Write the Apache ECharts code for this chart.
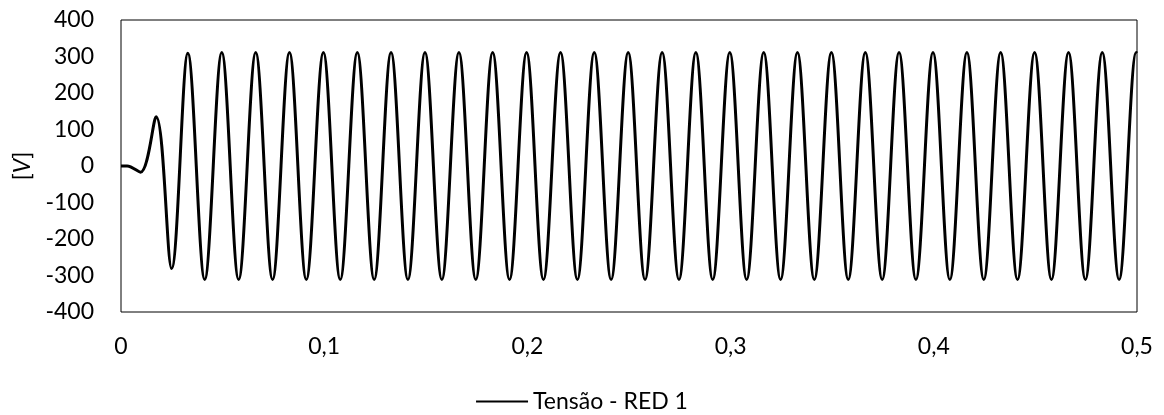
<!DOCTYPE html>
<html>
<head>
<meta charset="utf-8">
<script src="https://cdn.jsdelivr.net/npm/echarts@6/dist/echarts.min.js"></script>
<style>
  html, body { margin: 0; padding: 0; background: #fff; }
  #chart { width: 1164px; height: 415px; }
</style>
</head>
<body>
<div id="chart"></div>
<script>
// start of the signal (transient)
var startTimes = [0, 0.003, 0.0096, 0.0173, 0.0249];
var startValues = [0, 0, -17, 135, -281];

// steady state peaks and troughs
var peakTimes = [0.0329, 0.0496, 0.0663, 0.0829, 0.0996, 0.1163, 0.1329, 0.1496, 0.1663, 0.1829,
  0.1996, 0.2163, 0.2329, 0.2496, 0.2663, 0.2829, 0.2996, 0.3163, 0.3329, 0.3496,
  0.3663, 0.3829, 0.3996, 0.4163, 0.4329, 0.4496, 0.4663, 0.4829, 0.4996];
var peakValues = [309, 311, 311, 311, 311, 311, 311, 311, 311, 311,
  311, 311, 311, 311, 311, 311, 311, 311, 311, 311,
  311, 311, 311, 311, 311, 311, 311, 311, 311];
var troughTimes = [0.0412, 0.0579, 0.0746, 0.0912, 0.1079, 0.1246, 0.1412, 0.1579, 0.1746, 0.1912,
  0.2079, 0.2246, 0.2412, 0.2579, 0.2746, 0.2912, 0.3079, 0.3246, 0.3412, 0.3579,
  0.3746, 0.3912, 0.4079, 0.4246, 0.4412, 0.4579, 0.4746, 0.4912];
var troughValues = [-311, -311, -311, -311, -311, -311, -311, -311, -311, -311,
  -311, -311, -311, -311, -311, -311, -311, -311, -311, -311,
  -311, -311, -311, -311, -311, -311, -311, -311];
var endTimes = [0.5];
var endValues = [309];

var seriesName = 'Tensão - RED 1';

var points = [];
function addPoints(ts, vs) {
  for (var i = 0; i < ts.length; i++) points.push([ts[i], vs[i]]);
}
addPoints(startTimes, startValues);
addPoints(peakTimes, peakValues);
addPoints(troughTimes, troughValues);
addPoints(endTimes, endValues);
points.sort(function (a, b) { return a[0] - b[0]; });

var FONT = 'Lato, "Open Sans", sans-serif';
var FS = 23;

var myChart = echarts.init(document.getElementById('chart'));
var option = {
  animation: false,
  backgroundColor: '#fff',
  textStyle: { fontFamily: FONT },
  grid: {
    left: 121,
    top: 20,
    right: 27,
    bottom: 103,
    show: true,
    borderColor: '#000',
    borderWidth: 1,
    backgroundColor: 'transparent'
  },
  legend: {
    top: 385,
    left: 'center',
    icon: 'rect',
    itemWidth: 52,
    itemHeight: 2,
    itemGap: 4,
    textStyle: { fontSize: FS, color: '#000', fontFamily: FONT },
    data: [seriesName]
  },
  xAxis: {
    type: 'value',
    min: 0,
    max: 0.5,
    interval: 0.1,
    axisLine: { show: false },
    axisTick: { show: false },
    splitLine: { show: false },
    axisLabel: {
      color: '#000',
      fontSize: FS,
      margin: 23,
      formatter: function (v) {
        return v === 0 ? '0' : v.toFixed(1).replace('.', ',');
      }
    }
  },
  yAxis: {
    type: 'value',
    min: -400,
    max: 400,
    interval: 100,
    name: '[{i|V}]',
    nameLocation: 'middle',
    nameGap: 80,
    nameTextStyle: {
      fontSize: FS,
      color: '#000',
      rich: { i: { fontSize: FS, fontStyle: 'italic', color: '#000', fontFamily: FONT } }
    },
    axisLine: { show: false },
    axisTick: { show: false },
    splitLine: { show: false },
    axisLabel: { color: '#000', fontSize: FS, margin: 27 }
  },
  series: [{
    name: seriesName,
    type: 'line',
    data: points,
    symbol: 'none',
    smooth: 0.35,
    lineStyle: { color: '#000', width: 3 },
    itemStyle: { color: '#000' }
  }]
};
myChart.setOption(option);
</script>
</body>
</html>
